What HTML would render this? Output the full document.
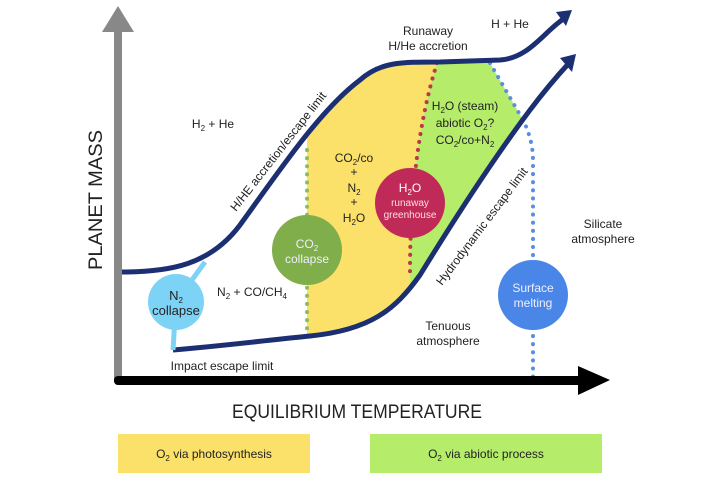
<!DOCTYPE html>
<html><head><style>
body{margin:0;width:720px;height:480px;background:#fff;overflow:hidden}
svg{display:block}
text{font-family:"Liberation Sans",sans-serif;fill:#222}
</style></head><body>
<svg width="720" height="480" viewBox="0 0 720 480">
<defs>
<clipPath id="band">
<path d="M122,272 C170,272 210,265 240,225 C280,170 320,110 360,80 C380,62 400,62 440,62 L500,60 L570,62 C558,75 545,90 530,110 C500,150 460,210 420,275 C395,310 370,330 310,336 C270,340 220,346 173,350 Z"/>
</clipPath>
</defs>
<g clip-path="url(#band)">
<path d="M307,0 L437,0 L437,63 Q410,150 410,273 L410,400 L307,400 Z" fill="#fbe06a"/>
<path d="M437,0 L490,0 L490,63 L523,120 L600,120 L600,400 L410,400 L410,273 Q410,150 437,63 Z" fill="#b5ec6a"/>
</g>
<!-- dotted lines -->
<path d="M307,150 L307,337" stroke="#8dbd57" stroke-width="4" stroke-dasharray="0.1 8" stroke-linecap="round" fill="none"/>
<path d="M437,63 Q410,150 410,273" stroke="#b83a4b" stroke-width="4" stroke-dasharray="0.1 8" stroke-linecap="round" fill="none"/>
<path d="M490,63 L523,120 Q533,140 533,160 L533,377" stroke="#5a8ee0" stroke-width="4" stroke-dasharray="0.1 8" stroke-linecap="round" fill="none"/>
<!-- axes -->
<rect x="114" y="30" width="8" height="352" fill="#888"/>
<polygon points="102,32 118,6 134,32" fill="#888"/>
<rect x="114" y="376" width="470" height="9" rx="4" fill="#000"/>
<polygon points="578,366 610,380 578,395" fill="#000"/>
<!-- curves -->
<path d="M122,272 C170,272 210,265 240,225 C280,170 320,110 360,80 C380,62 400,62 440,62 L500,60 C530,58 545,30 565,18" stroke="#1c2f72" stroke-width="5" fill="none"/>
<polygon points="556,12 572,10 566,26" fill="#1c2f72"/>
<path d="M173,350 C220,346 270,340 310,336 C370,330 395,310 420,275 C460,210 500,150 530,110 C545,90 558,75 570,62" stroke="#1c2f72" stroke-width="5" fill="none"/>
<polygon points="560,58 576,54 572,72" fill="#1c2f72"/>
<!-- N2 collapse connector -->
<path d="M205,262 L176,302 L173,350" stroke="#7dd3f5" stroke-width="5" fill="none"/>
<!-- circles -->
<circle cx="176" cy="302" r="28" fill="#7dd3f5"/>
<text x="176" y="300" font-size="13" text-anchor="middle">N<tspan font-size="8" dy="3">2</tspan></text>
<text x="176" y="315" font-size="13" text-anchor="middle">collapse</text>
<circle cx="307" cy="250" r="35" fill="#7fae4a"/>
<text x="307" y="248" font-size="12" text-anchor="middle" style="fill:#eef">CO<tspan font-size="8" dy="3">2</tspan></text>
<text x="307" y="263" font-size="12" text-anchor="middle" style="fill:#eef">collapse</text>
<circle cx="410" cy="203" r="35" fill="#c02a58"/>
<text x="410" y="192" font-size="12" text-anchor="middle" style="fill:#fff">H<tspan font-size="8" dy="3">2</tspan><tspan dy="-3">O</tspan></text>
<text x="410" y="206" font-size="10" text-anchor="middle" style="fill:#fdd">runaway</text>
<text x="410" y="218" font-size="10" text-anchor="middle" style="fill:#fdd">greenhouse</text>
<circle cx="533" cy="295" r="35" fill="#4a86e8"/>
<text x="533" y="292" font-size="12" text-anchor="middle" style="fill:#eef">Surface</text>
<text x="533" y="307" font-size="12" text-anchor="middle" style="fill:#eef">melting</text>
<!-- labels -->
<text x="428" y="35" font-size="12" text-anchor="middle">Runaway</text>
<text x="428" y="50" font-size="12" text-anchor="middle">H/He accretion</text>
<text x="510" y="28" font-size="12" text-anchor="middle">H + He</text>
<text x="213" y="128" font-size="12" text-anchor="middle">H<tspan font-size="8" dy="3">2</tspan><tspan dy="-3"> + He</tspan></text>
<text x="0" y="0" font-size="12" transform="translate(236,212) rotate(-52)">H/HE accretion/escape limit</text>
<text x="0" y="0" font-size="12" transform="translate(442,286) rotate(-53)">Hydrodynamic escape limit</text>
<text x="465" y="110" font-size="12" text-anchor="middle">H<tspan font-size="8" dy="3">2</tspan><tspan dy="-3">O (steam)</tspan></text>
<text x="465" y="127" font-size="12" text-anchor="middle">abiotic O<tspan font-size="8" dy="3">2</tspan><tspan dy="-3">?</tspan></text>
<text x="465" y="144" font-size="12" text-anchor="middle">CO<tspan font-size="8" dy="3">2</tspan><tspan dy="-3">/co+N</tspan><tspan font-size="8" dy="3">2</tspan></text>
<text x="354" y="162" font-size="12" text-anchor="middle">CO<tspan font-size="8" dy="3">2</tspan><tspan dy="-3">/co</tspan></text>
<text x="354" y="176" font-size="12" text-anchor="middle">+</text>
<text x="354" y="192" font-size="12" text-anchor="middle">N<tspan font-size="8" dy="3">2</tspan></text>
<text x="354" y="206" font-size="12" text-anchor="middle">+</text>
<text x="354" y="222" font-size="12" text-anchor="middle">H<tspan font-size="8" dy="3">2</tspan><tspan dy="-3">O</tspan></text>
<text x="252" y="296" font-size="12" text-anchor="middle">N<tspan font-size="8" dy="3">2</tspan><tspan dy="-3"> + CO/CH</tspan><tspan font-size="8" dy="3">4</tspan></text>
<text x="448" y="330" font-size="12" text-anchor="middle">Tenuous</text>
<text x="448" y="345" font-size="12" text-anchor="middle">atmosphere</text>
<text x="603" y="228" font-size="12" text-anchor="middle">Silicate</text>
<text x="603" y="243" font-size="12" text-anchor="middle">atmosphere</text>
<text x="222" y="370" font-size="12" text-anchor="middle">Impact escape limit</text>
<text x="0" y="0" font-size="19" text-anchor="middle" transform="translate(102,200) rotate(-90)" textLength="140" lengthAdjust="spacingAndGlyphs">PLANET MASS</text>
<text x="357" y="418" font-size="19" text-anchor="middle" textLength="250" lengthAdjust="spacingAndGlyphs">EQUILIBRIUM TEMPERATURE</text>
<!-- legend -->
<rect x="118" y="434" width="192" height="39" fill="#fbe06a"/>
<text x="214" y="458" font-size="12" text-anchor="middle">O<tspan font-size="8" dy="3">2</tspan><tspan dy="-3"> via photosynthesis</tspan></text>
<rect x="370" y="434" width="232" height="39" fill="#b5ec6a"/>
<text x="486" y="458" font-size="12" text-anchor="middle">O<tspan font-size="8" dy="3">2</tspan><tspan dy="-3"> via abiotic process</tspan></text>
</svg>
</body></html>
